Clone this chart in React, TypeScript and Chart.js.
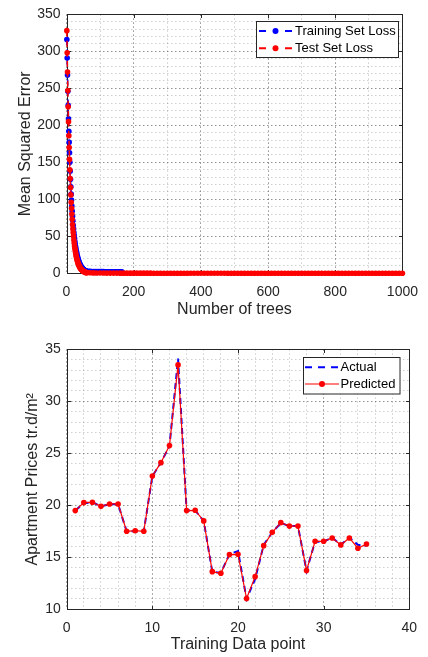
import React, { useEffect, useRef } from 'react';
import { Chart, registerables } from 'chart.js';

Chart.register(...registerables);

const FONT = '"Liberation Sans", Arial, Helvetica, sans-serif';
const INK = '#262626';
const BLUE = 'rgb(0,0,255)';
const RED = 'rgb(255,0,0)';
const GRID_MAJOR = 'rgba(38,38,38,0.5)';
const GRID_MINOR = 'rgba(38,38,38,0.22)';

// ---------- Top chart: loss vs number of trees ----------
const lossXMajor = [0, 200, 400, 600, 800, 1000];
const lossYMajor = [0, 50, 100, 150, 200, 250, 300, 350];

// values at trees 1..60
const trainLossHead = [
  316, 291, 268, 246, 227, 209, 192, 177, 163, 150,
  138, 127, 117, 107, 99, 91, 84, 77, 71, 65,
  60, 55, 51, 47, 43, 39.5, 36.3, 33.4, 30.7, 28.3,
  26, 23.9, 22, 20.2, 18.6, 17.1, 15.7, 14.5, 13.3, 12.2,
  11.3, 10.4, 9.5, 8.8, 8.1, 7.4, 6.8, 6.3, 5.8, 5.4,
  5.0, 4.6, 4.3, 4.0, 3.7, 3.5, 3.3, 3.1, 2.9, 2.8,
];
// values at trees 65, 70, ..., 165
const trainLossTail = [
  2.7, 2.6, 2.5, 2.4, 2.4, 2.3, 2.3, 2.2, 2.2, 2.2,
  2.1, 2.1, 2.1, 2.1, 2.0, 2.0, 2.0, 2.0, 2.0, 2.0, 2.0,
];
// values at trees 1..60
const testLossHead = [
  328, 298, 272, 247, 225, 205, 186, 170, 154, 140,
  128, 116, 106, 96, 88, 80, 73, 66, 60, 55,
  50, 45, 41, 37, 34, 31, 28, 25.5, 23, 21,
  19, 17.3, 15.8, 14.3, 13, 11.8, 10.7, 9.7, 8.8, 8.0,
  7.2, 6.5, 5.9, 5.3, 4.8, 4.3, 3.9, 3.5, 3.1, 2.8,
  2.5, 2.2, 2.0, 1.8, 1.6, 1.4, 1.2, 1.1, 1.0, 0.9,
];
// values at trees 70, 80, ..., 1000
const testLossTail = [
  0.7, 0.55, 0.45, 0.4, 0.35, 0.3, 0.3, 0.25, 0.25, 0.2,
  0.2, 0.2, 0.2, 0.18, 0.18, 0.18, 0.17, 0.17, 0.17, 0.16,
  0.16, 0.16, 0.15, 0.15, 0.15, 0.15, 0.14, 0.14, 0.14, 0.14,
  0.13, 0.13, 0.13, 0.13, 0.13, 0.12, 0.12, 0.12, 0.12, 0.12,
  0.12, 0.11, 0.11, 0.11, 0.11, 0.11, 0.11, 0.11, 0.1, 0.1,
  0.1, 0.1, 0.1, 0.1, 0.1, 0.1, 0.1, 0.1, 0.1, 0.1,
  0.1, 0.1, 0.1, 0.1, 0.1, 0.09, 0.09, 0.09, 0.09, 0.09,
  0.09, 0.09, 0.09, 0.09, 0.09, 0.09, 0.09, 0.09, 0.09, 0.09,
  0.09, 0.09, 0.09, 0.08, 0.08, 0.08, 0.08, 0.08, 0.08, 0.08,
  0.08, 0.08, 0.08, 0.08,
];

// ---------- Bottom chart: actual vs predicted ----------
const priceXMajor = [0, 10, 20, 30, 40];
const priceYMajor = [10, 15, 20, 25, 30, 35];
const actualPrices = [
  19.5, 20.2, 20.3, 19.9, 20.1, 20.1, 17.5, 17.5, 17.5, 22.8,
  24.1, 25.7, 34.1, 19.5, 19.5, 18.5, 13.6, 13.5, 15.3, 15.6,
  11.0, 12.9, 16.2, 17.4, 18.3, 18.0, 18.0, 13.7, 16.5, 16.5,
  16.9, 16.2, 16.9, 16.2, 16.1,
];
const predictedPrices = [
  19.49, 20.26, 20.29, 19.9, 20.13, 20.13, 17.5, 17.56, 17.5, 22.82,
  24.1, 25.74, 33.5, 19.49, 19.52, 18.5, 13.62, 13.46, 15.26, 15.29,
  11.03, 13.14, 16.12, 17.4, 18.33, 18.0, 18.0, 13.72, 16.54, 16.54,
  16.86, 16.19, 16.86, 15.87, 16.28,
];

const headPoints = (vals: number[]) => vals.map((y, i) => ({ x: i + 1, y }));
const tailPoints = (vals: number[], start: number, step: number) =>
  vals.map((y, i) => ({ x: start + i * step, y }));

const framePlugin = (xMajor: number[], yMajor: number[]) => ({
  id: 'mframe',
  beforeDatasetsDraw(chart: any) {
    const { ctx, chartArea: a, scales } = chart;
    const l = Math.round(a.left) + 0.5;
    const r = Math.round(a.right) + 0.5;
    const t = Math.round(a.top) + 0.5;
    const b = Math.round(a.bottom) + 0.5;
    ctx.save();
    ctx.strokeStyle = INK;
    ctx.lineWidth = 1;
    ctx.setLineDash([]);
    ctx.strokeRect(l, t, r - l, b - t);
    ctx.beginPath();
    const L = 3.5;
    xMajor.forEach((v) => {
      const px = Math.round(scales.x.getPixelForValue(v)) + 0.5;
      ctx.moveTo(px, b); ctx.lineTo(px, b - L);
      ctx.moveTo(px, t); ctx.lineTo(px, t + L);
    });
    yMajor.forEach((v) => {
      const py = Math.round(scales.y.getPixelForValue(v)) + 0.5;
      ctx.moveTo(l, py); ctx.lineTo(l + L, py);
      ctx.moveTo(r, py); ctx.lineTo(r - L, py);
    });
    ctx.stroke();
    ctx.restore();
  },
});

type Row = { ds: number; y: number; kind: 'dashMarker' | 'dash' | 'solidMarker' };
const legendPlugin = (box: { x: number; y: number; w: number; h: number }, sx: number, sw: number, tx: number, rows: Row[]) => ({
  id: 'mlegend',
  afterDraw(chart: any) {
    const ctx = chart.ctx;
    ctx.save();
    ctx.fillStyle = '#ffffff';
    ctx.fillRect(box.x, box.y, box.w, box.h);
    ctx.strokeStyle = INK;
    ctx.lineWidth = 1;
    ctx.strokeRect(box.x, box.y, box.w, box.h);
    rows.forEach((row) => {
      const ds = chart.data.datasets[row.ds];
      const color = ds.borderColor;
      ctx.strokeStyle = color;
      ctx.fillStyle = color;
      const cx = sx + sw / 2;
      if (row.kind === 'dashMarker') {
        ctx.lineWidth = 2;
        ctx.beginPath();
        ctx.moveTo(sx, row.y); ctx.lineTo(sx + 7, row.y);
        ctx.moveTo(sx + sw - 7, row.y); ctx.lineTo(sx + sw, row.y);
        ctx.stroke();
        ctx.beginPath(); ctx.arc(cx, row.y, 3, 0, Math.PI * 2); ctx.fill();
      } else if (row.kind === 'dash') {
        ctx.lineWidth = 2;
        ctx.setLineDash([7, 6]);
        ctx.beginPath(); ctx.moveTo(sx, row.y); ctx.lineTo(sx + sw, row.y); ctx.stroke();
        ctx.setLineDash([]);
      } else {
        ctx.lineWidth = 1.2;
        ctx.beginPath(); ctx.moveTo(sx, row.y); ctx.lineTo(sx + sw, row.y); ctx.stroke();
        ctx.beginPath(); ctx.arc(cx, row.y, 3, 0, Math.PI * 2); ctx.fill();
      }
      ctx.fillStyle = '#000000';
      ctx.font = `13px ${FONT}`;
      ctx.textAlign = 'left';
      ctx.textBaseline = 'middle';
      ctx.fillText(ds.label, tx, row.y + 0.5);
    });
    ctx.restore();
  },
});

const axisCommon = (opts: any) => {
  const { min, max, step, major, title, titlePad, fitSize, isX, tickPad } = opts;
  return {
    type: 'linear',
    min,
    max,
    border: { display: false, dash: [1.5, 2.5] },
    grid: {
      drawTicks: false,
      lineWidth: 1,
      color: (c: any) => (c.tick && Math.abs(c.tick.value % major) < 1e-6 ? GRID_MAJOR : GRID_MINOR),
    },
    ticks: {
      stepSize: step,
      autoSkip: false,
      maxTicksLimit: 200,
      maxRotation: 0,
      minRotation: 0,
      padding: tickPad,
      color: INK,
      font: { family: FONT, size: 14 },
      callback: (v: any) => (Math.abs(Number(v) % major) < 1e-6 ? String(v) : ''),
    },
    title: {
      display: true,
      text: title,
      color: INK,
      font: { family: FONT, size: 16 },
      padding: isX ? { top: 0, bottom: titlePad } : { top: titlePad, bottom: 0 },
    },
    afterFit: (s: any) => {
      if (isX) s.height = fitSize;
      else s.width = fitSize;
    },
  };
};

function TopChart() {
  const ref = useRef<HTMLCanvasElement>(null);
  useEffect(() => {
    const testData = [...headPoints(testLossHead), ...tailPoints(testLossTail, 70, 10)];
    const trainData = [...headPoints(trainLossHead), ...tailPoints(trainLossTail, 65, 5)];
    const chart = new Chart(ref.current as HTMLCanvasElement, {
      type: 'line',
      data: {
        datasets: [
          {
            label: 'Training Set Loss',
            data: trainData,
            borderColor: BLUE,
            backgroundColor: BLUE,
            borderWidth: 1.5,
            borderDash: [6, 4],
            pointRadius: 2.8,
            pointBorderWidth: 0,
            pointBackgroundColor: BLUE,
            clip: false,
            order: 1,
          },
          {
            label: 'Test Set Loss',
            data: testData,
            borderColor: RED,
            backgroundColor: RED,
            borderWidth: 1.5,
            borderDash: [6, 4],
            pointRadius: 2.8,
            pointBorderWidth: 0,
            pointBackgroundColor: RED,
            clip: false,
            order: 0,
          },
        ],
      } as any,
      options: {
        animation: false,
        responsive: false,
        events: [],
        layout: { padding: { left: 0, right: 18, top: 13, bottom: 0 } },
        plugins: { legend: { display: false }, tooltip: { enabled: false } },
        scales: {
          x: axisCommon({ min: 0, max: 1000, step: 100, major: 200, title: 'Number of trees', titlePad: 9, fitSize: 54.7, isX: true, tickPad: 10 }),
          y: axisCommon({ min: 0, max: 350, step: 10, major: 50, title: 'Mean Squared Error', titlePad: 15.5, fitSize: 66.5, isX: false, tickPad: 6 }),
        } as any,
      },
      plugins: [
        framePlugin(lossXMajor, lossYMajor),
        legendPlugin({ x: 256.5, y: 21.5, w: 142, h: 36 }, 259, 33, 295, [
          { ds: 0, y: 31, kind: 'dashMarker' },
          { ds: 1, y: 48.3, kind: 'dashMarker' },
        ]),
      ],
    });
    return () => chart.destroy();
  }, []);
  return <canvas ref={ref} width={428} height={328} style={{ display: 'block' }} />;
}

function BottomChart() {
  const ref = useRef<HTMLCanvasElement>(null);
  useEffect(() => {
    const chart = new Chart(ref.current as HTMLCanvasElement, {
      type: 'line',
      data: {
        datasets: [
          {
            label: 'Actual',
            data: headPoints(actualPrices),
            borderColor: BLUE,
            backgroundColor: BLUE,
            borderWidth: 2,
            borderDash: [6, 4],
            pointRadius: 0,
            order: 1,
          },
          {
            label: 'Predicted',
            data: headPoints(predictedPrices),
            borderColor: RED,
            backgroundColor: RED,
            borderWidth: 1.2,
            pointRadius: 2.8,
            pointBorderWidth: 0,
            pointBackgroundColor: RED,
            order: 0,
          },
        ],
      } as any,
      options: {
        animation: false,
        responsive: false,
        events: [],
        layout: { padding: { left: 0, right: 18.7, top: 21.3, bottom: 0 } },
        plugins: { legend: { display: false }, tooltip: { enabled: false } },
        scales: {
          x: axisCommon({ min: 0, max: 40, step: 2, major: 10, title: 'Training Data point', titlePad: 3, fitSize: 47.7, isX: true, tickPad: 10 }),
          y: axisCommon({ min: 10, max: 35, step: 1, major: 5, title: 'Apartment Prices tr.d/m\u00B2', titlePad: 23, fitSize: 66.7, isX: false, tickPad: 6 }),
        } as any,
      },
      plugins: [
        framePlugin(priceXMajor, priceYMajor),
        legendPlugin({ x: 303.5, y: 29.5, w: 96.5, h: 36.5 }, 305, 34, 340.5, [
          { ds: 0, y: 39.3, kind: 'dash' },
          { ds: 1, y: 56, kind: 'solidMarker' },
        ]),
      ],
    });
    return () => chart.destroy();
  }, []);
  return <canvas ref={ref} width={428} height={329} style={{ display: 'block' }} />;
}

export default function App() {
  return (
    <div style={{ position: 'absolute', left: 0, top: 0, width: 428, height: 657, background: '#ffffff' }}>
      <TopChart />
      <BottomChart />
    </div>
  );
}
